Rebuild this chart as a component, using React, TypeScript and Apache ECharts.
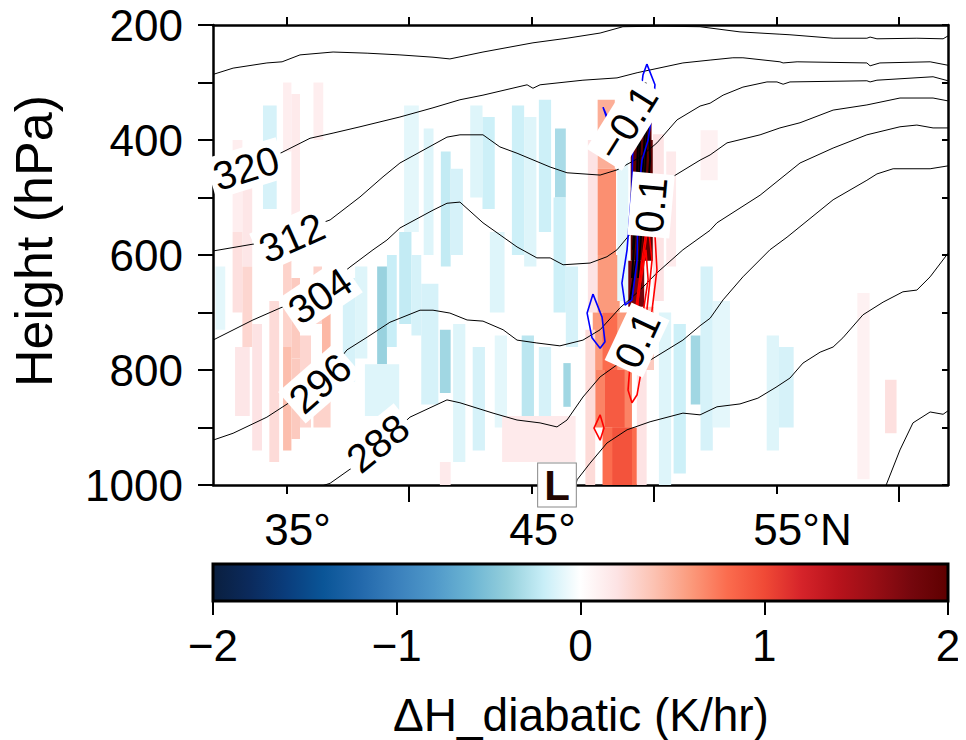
import React, { useEffect, useRef } from 'react';
import * as echarts from 'echarts';

const FONT = '"Liberation Sans", Arial, Helvetica, sans-serif';

// axis ticks / labels
const latTicksShort = [35, 45, 55];
const latTicksLong = [40, 50, 60];
const latTicksTop = [35, 40, 45, 50, 55, 60];
const latLabels = [35, 45, 55];

// colour table of the shading (evenly spaced from -2 to 2)
const cbarColors = [
  '#0a1f3f', '#0b2a5c', '#0a3d7c', '#0a5597', '#2268ab', '#3a80bc', '#4f98c9',
  '#6bb4d3', '#94cfdc', '#c8eef7', '#ffffff', '#fde3e4', '#fcc2b2', '#fb9a7c',
  '#fb6c4e', '#f04a36', '#d6242a', '#b8131c', '#980e15', '#75070d', '#5e0000',
];

// diabatic heating difference cells: [lat0, lat1, pTop, pBottom, K/hr]
const heatCells = [
  // warm streaks on the left
  [32.8, 33.2, 400, 560, 0.12], [33.2, 33.6, 430, 620, 0.18], [32.8, 33.2, 560, 700, 0.22],
  [33.2, 33.6, 620, 760, 0.28], [32.9, 33.5, 760, 880, 0.18], [33.6, 34.0, 720, 940, 0.2],
  [34.3, 34.7, 680, 960, 0.25], [34.86, 35.2, 300, 420, 0.12], [35.2, 35.55, 320, 600, 0.15],
  [34.86, 35.2, 600, 760, 0.3], [35.2, 35.55, 640, 780, 0.35], [34.86, 35.2, 760, 940, 0.42],
  [35.2, 35.55, 780, 920, 0.35], [35.55, 36.0, 740, 900, 0.28], [36.1, 36.5, 300, 400, 0.12],
  [36.1, 36.45, 620, 720, 0.3], [36.45, 36.8, 660, 790, 0.45], [36.1, 36.8, 790, 900, 0.3],
  // cool streaks
  [34.04, 34.6, 340, 520, -0.15], [32.1, 32.5, 620, 730, -0.1], [37.3, 37.8, 640, 820, -0.15],
  [37.8, 38.3, 620, 780, -0.12], [38.7, 39.1, 620, 790, -0.38], [39.1, 39.5, 600, 760, -0.2],
  [38.2, 39.6, 790, 880, -0.12], [39.6, 40.1, 560, 720, -0.22], [40.1, 40.5, 600, 740, -0.15],
  [39.8, 40.4, 340, 560, -0.1], [40.6, 41.0, 380, 600, -0.12], [41.3, 41.7, 420, 620, -0.22],
  [41.7, 42.2, 450, 600, -0.15], [42.5, 43.0, 340, 500, -0.12], [43.0, 43.5, 360, 520, -0.18],
  [43.3, 43.9, 560, 700, -0.12], [40.5, 41.2, 650, 860, -0.15], [41.26, 41.7, 730, 840, -0.35],
  [41.8, 42.3, 720, 960, -0.12], [42.6, 43.1, 760, 940, -0.15], [43.5, 44.0, 740, 900, -0.1],
  [44.2, 44.7, 340, 600, -0.18], [44.7, 45.2, 360, 620, -0.12], [45.3, 45.8, 330, 560, -0.18],
  [45.96, 46.4, 380, 500, -0.32], [45.9, 46.4, 500, 700, -0.18], [44.6, 45.1, 740, 880, -0.25],
  [45.3, 45.8, 760, 900, -0.15], [46.3, 46.6, 788, 864, -0.35], [46.4, 46.9, 620, 760, -0.15],
  [41.26, 41.7, 960, 1000, 0.15], [43.8, 46.8, 880, 960, 0.15],
  // frontal heating band
  [47.3, 47.7, 400, 700, 0.2], [47.7, 48.4, 330, 450, 0.5], [47.7, 48.45, 450, 600, 0.65],
  [47.7, 48.6, 600, 700, 0.6], [47.5, 48.9, 700, 800, 0.6], [47.9, 48.5, 700, 800, 0.8],
  [47.6, 49.1, 800, 900, 0.7], [48.0, 48.8, 800, 900, 0.9], [47.9, 49.3, 900, 1000, 0.8],
  [48.3, 49.1, 900, 1000, 0.95], [47.2, 47.6, 730, 1000, 0.25], [49.3, 49.7, 800, 1000, 0.2],
  [48.5, 48.95, 400, 680, -0.1],
  [49.3, 49.9, 320, 400, 1.8], [49.05, 49.95, 400, 610, 2.0], [48.95, 49.6, 610, 690, 1.8],
  [49.96, 50.4, 390, 680, 0.2], [50.5, 50.9, 420, 620, 0.15], [49.6, 50.0, 690, 800, 0.35],
  // north side
  [50.2, 50.7, 700, 1000, -0.12], [50.8, 51.3, 720, 980, -0.18], [51.5, 51.9, 740, 860, -0.35],
  [51.9, 52.4, 620, 940, -0.15], [52.4, 53.1, 680, 900, -0.1], [54.6, 55.1, 740, 940, -0.12],
  [55.1, 55.7, 760, 900, -0.15], [58.3, 58.8, 666, 990, 0.1], [59.43, 59.9, 817, 910, 0.22],
  [51.9, 52.6, 383, 470, 0.1],
];

// potential temperature contours [lat, hPa]
const theta328 = [[32.0, 286], [32.82, 275], [34.2, 266], [34.82, 264], [35.55, 252], [36.9, 247], [38.29, 249], [39.63, 252], [40.98, 256], [41.67, 259], [43.02, 247], [45.06, 231], [46.45, 223], [47.8, 214], [48.73, 203], [50.24, 202], [51.88, 203], [53.51, 212], [55.14, 216], [55.55, 217], [57.31, 223], [58.69, 223], [58.82, 221], [59.1, 224], [60.73, 223], [61.8, 224], [62.0, 219]];
const theta320 = [[32.0, 473], [33.31, 449], [34.61, 426], [35.96, 397], [36.9, 388], [38.0, 377], [39.63, 360], [40.98, 344], [42.08, 330], [43.02, 322], [44.82, 304], [45.06, 310], [45.35, 304], [47.1, 296], [48.49, 292], [49.31, 283], [51.18, 266], [52.29, 261], [53.22, 257], [53.63, 257], [55.14, 264], [55.27, 266], [55.84, 264], [58.69, 266], [58.82, 271], [59.22, 266], [61.27, 264], [62.0, 270]];
const theta312 = [[32.0, 593], [33.92, 579], [35.22, 563], [36.78, 539], [38.0, 499], [38.94, 464], [39.63, 440], [41.55, 395], [42.08, 391], [43.02, 391], [43.71, 412], [44.41, 423], [45.76, 447], [46.45, 457], [47.8, 461], [48.49, 452], [49.43, 430], [50.12, 405], [50.94, 365], [51.88, 341], [52.29, 336], [52.82, 322], [53.63, 308], [54.61, 299], [55.02, 299], [55.27, 303], [55.55, 299], [58.69, 297], [58.82, 299], [59.1, 296], [61.39, 290], [62.0, 297]];
const theta304 = [[32.0, 748], [33.63, 713], [34.86, 690], [36.37, 664], [37.59, 621], [38.53, 591], [39.1, 574], [39.63, 553], [40.98, 522], [41.55, 510], [42.08, 508], [43.02, 544], [44.41, 586], [45.22, 605], [45.76, 605], [46.29, 617], [47.39, 614], [48.08, 603], [48.49, 591], [49.43, 543], [50.53, 470], [51.88, 435], [52.29, 426], [52.98, 405], [54.33, 391], [55.14, 379], [55.96, 370], [57.31, 348], [58.69, 339], [60.04, 327], [61.39, 327], [62.0, 332]];
const theta296 = [[32.0, 922], [32.82, 910], [34.2, 882], [35.14, 856], [36.37, 823], [37.47, 765], [38.29, 743], [39.22, 717], [39.63, 710], [40.45, 696], [40.98, 696], [41.67, 701], [42.37, 713], [43.02, 715], [43.84, 730], [44.41, 748], [45.22, 753], [46.16, 758], [47.1, 748], [47.8, 730], [48.61, 692], [49.43, 661], [50.12, 631], [51.18, 591], [52.29, 557], [52.57, 544], [54.33, 496], [55.96, 440], [57.31, 414], [58.69, 391], [60.04, 377], [60.73, 374], [61.39, 379], [62.0, 379]];
const theta288 = [[36.2, 1005], [36.78, 997], [37.71, 969], [38.82, 930], [40.04, 882], [41.55, 852], [42.08, 857], [43.43, 875], [44.41, 887], [45.35, 892], [46.04, 899], [46.45, 887], [47.1, 847], [47.8, 812], [48.49, 791], [49.84, 783], [51.18, 748], [51.88, 723], [52.29, 710], [52.82, 678], [53.63, 638], [54.73, 591], [55.43, 569], [57.31, 504], [58.69, 470], [59.1, 459], [59.76, 450], [61.27, 450], [62.0, 445]];
const theta280 = [[46.78, 1005], [46.86, 991], [47.39, 962], [48.08, 927], [48.9, 904], [49.84, 890], [51.18, 875], [51.88, 878], [52.57, 864], [53.51, 859], [54.24, 849], [54.98, 830], [55.55, 814], [56.08, 788], [56.78, 769], [57.31, 760], [57.71, 744], [58.53, 704], [59.35, 682], [60.16, 664], [60.73, 661], [61.27, 638], [62.0, 597]];
const theta272 = [[59.43, 1005], [60.04, 939], [60.57, 892], [61.27, 873], [61.8, 877], [62.0, 871]];

// -0.1 contours (blue)
const negMain = [[49.71, 268], [50.04, 304], [49.96, 343], [49.76, 400], [49.51, 435], [49.35, 504], [49.31, 609], [49.1, 678], [48.82, 687], [48.69, 649], [48.9, 591], [49.1, 482], [49.14, 405], [49.43, 330], [49.55, 287], [49.71, 268]];
const negSmall = [[47.51, 668], [47.27, 701], [47.47, 744], [47.8, 762], [48.0, 751], [47.88, 708], [47.51, 668]];
const negUpper = [[47.92, 343], [48.16, 372], [48.04, 417], [48.3, 380], [47.92, 343]];
// +0.1 contours (red)
const posOuter = [[49.8, 518], [50.04, 565], [50.12, 626], [49.92, 696], [49.63, 765], [49.31, 843], [49.1, 857], [48.94, 835], [49.1, 748], [49.35, 661], [49.59, 583], [49.8, 518]];
const posMid = [[49.76, 548], [49.92, 609], [49.71, 696], [49.43, 765], [49.18, 800], [49.14, 765], [49.35, 678], [49.59, 600], [49.76, 548]];
const posInner = [[49.67, 591], [49.76, 643], [49.51, 713], [49.31, 739], [49.35, 678], [49.67, 591]];
const posSmall = [[47.8, 878], [47.96, 901], [47.8, 922], [47.55, 901], [47.8, 878]];
// dense black contours in the core
const core1 = [[49.55, 322], [49.63, 383], [49.47, 504], [49.27, 609], [49.02, 678]];
const core2 = [[49.76, 330], [49.84, 435], [49.63, 557], [49.43, 661]];
const core3 = [[49.35, 400], [49.27, 504], [49.14, 591]];
const core4 = [[49.65, 300], [49.7, 400], [49.55, 520], [49.35, 640]];
const core5 = [[49.45, 360], [49.4, 460], [49.22, 560], [49.1, 640]];

// contour labels: [lat, hPa, text, angle]
const isoLabels = [
  [33.35, 449, '320', 17], [35.22, 570, '312', 24], [36.37, 671, '304', 34],
  [36.37, 823, '296', 41], [38.73, 927, '288', 39],
  [48.9, 370, '\u22120.1', 58], [49.88, 513, '0.1', 85], [49.31, 748, '0.1', 65],
];
const lowCenter = [[46.04, 1000, 'L']];

const black = '#000';

export default function App() {
  const ref = useRef<HTMLDivElement>(null);
  useEffect(() => {
    const chart = echarts.init(ref.current!, undefined, { renderer: 'svg' });
    const line = (data: number[][], color: string, width: number, z = 3) => ({
      type: 'line', data, xAxisIndex: 0, yAxisIndex: 0, showSymbol: false, symbol: 'none',
      lineStyle: { color, width }, z, silent: true, clip: true,
    });
    const option: any = {
      animation: false,
      textStyle: { fontFamily: FONT },
      grid: [
        { left: 213, top: 25, width: 735, height: 460 },
        { left: 213, top: 564, width: 735, height: 37 },
      ],
      visualMap: {
        show: false, type: 'continuous', min: -2, max: 2, dimension: 4, seriesIndex: 0,
        inRange: { color: cbarColors },
      },
      xAxis: [
        {
          gridIndex: 0, type: 'value', position: 'bottom', min: 32, max: 62,
          axisLine: { lineStyle: { color: black, width: 2.5 } },
          axisTick: { customValues: latTicksShort, length: 9, lineStyle: { color: black, width: 2 } },
          axisLabel: {
            customValues: latLabels, margin: 22, color: black, fontSize: 44, fontFamily: FONT,
            formatter: (v: number) => (v === 55 ? '{b|55°N}' : '{a|' + v + '°}'),
            rich: {
              a: { fontSize: 44, fontFamily: FONT, color: black, padding: [0, 0, 0, 22] },
              b: { fontSize: 44, fontFamily: FONT, color: black, padding: [0, 0, 0, 52] },
            },
          },
          splitLine: { show: false },
        },
        {
          gridIndex: 0, type: 'value', position: 'bottom', min: 32, max: 62,
          axisLine: { show: false },
          axisTick: { customValues: latTicksLong, length: 17, lineStyle: { color: black, width: 2 } },
          axisLabel: { show: false }, splitLine: { show: false },
        },
        {
          gridIndex: 0, type: 'value', position: 'top', min: 32, max: 62,
          axisLine: { lineStyle: { color: black, width: 2.5 } },
          axisTick: { customValues: latTicksTop, length: 8, lineStyle: { color: black, width: 2 } },
          axisLabel: { show: false }, splitLine: { show: false },
        },
        {
          gridIndex: 1, type: 'value', position: 'bottom', min: -2, max: 2, interval: 1,
          axisLine: { show: false },
          axisTick: { length: 14, lineStyle: { color: black, width: 2 } },
          axisLabel: {
            margin: 22, color: black, fontSize: 44, fontFamily: FONT,
            formatter: (v: number) => (v < 0 ? '\u2212' + Math.abs(v) : String(v)),
          },
          splitLine: { show: false },
        },
      ],
      yAxis: [
        {
          gridIndex: 0, type: 'value', position: 'left', inverse: true, min: 200, max: 1000, interval: 100,
          axisLine: { lineStyle: { color: black, width: 2.5 } },
          axisTick: { length: 15, lineStyle: { color: black, width: 2 } },
          axisLabel: {
            margin: 30, color: black, fontSize: 44, fontFamily: FONT,
            formatter: (v: number) => (v % 200 === 0 ? String(v) : ''),
          },
          splitLine: { show: false },
        },
        {
          gridIndex: 0, type: 'value', position: 'right', inverse: true, min: 200, max: 1000, interval: 100,
          axisLine: { lineStyle: { color: black, width: 2.5 } },
          axisTick: { inside: true, length: 6, lineStyle: { color: black, width: 2 } },
          axisLabel: { show: false }, splitLine: { show: false },
        },
        { gridIndex: 1, type: 'value', min: 0, max: 1, show: false },
      ],
      series: [
        {
          type: 'custom', xAxisIndex: 0, yAxisIndex: 0, z: 1, silent: true,
          data: heatCells,
          encode: { x: [0, 1], y: [2, 3] },
          renderItem: (params: any, api: any) => {
            const a = api.coord([api.value(0), api.value(2)]);
            const b = api.coord([api.value(1), api.value(3)]);
            return {
              type: 'rect',
              shape: { x: Math.min(a[0], b[0]), y: Math.min(a[1], b[1]), width: Math.abs(b[0] - a[0]), height: Math.abs(b[1] - a[1]) },
              style: { fill: api.visual('color') },
            };
          },
        },
        line(theta328, black, 1), line(theta320, black, 1), line(theta312, black, 1),
        line(theta304, black, 1), line(theta296, black, 1), line(theta288, black, 1),
        line(theta280, black, 1), line(theta272, black, 1),
        line(core1, black, 2, 4), line(core2, black, 2, 4), line(core3, black, 2, 4),
        line(core4, black, 2, 4), line(core5, black, 2, 4),
        line(negMain, '#0000ff', 1.6, 5), line(negSmall, '#0000ff', 1.6, 5), line(negUpper, '#0000ff', 1.6, 5),
        line(posOuter, '#ff0000', 1.6, 5), line(posMid, '#ff0000', 1.6, 5), line(posInner, '#ff0000', 1.6, 5),
        line(posSmall, '#ff0000', 1.6, 5),
        {
          type: 'scatter', xAxisIndex: 0, yAxisIndex: 0, z: 8, silent: true, symbolSize: 0,
          itemStyle: { opacity: 1 },
          data: isoLabels.map((d) => ({
            value: [d[0], d[1]],
            label: {
              show: true, position: 'inside', formatter: String(d[2]), rotate: d[3], opacity: 1,
              fontSize: 40, fontFamily: FONT, color: black, backgroundColor: '#fff', padding: [1, 4],
            },
          })),
        },
        {
          type: 'scatter', xAxisIndex: 0, yAxisIndex: 0, z: 9, silent: true, symbolSize: 0, clip: false,
          itemStyle: { opacity: 1 },
          data: lowCenter.map((d) => ({
            value: [d[0], d[1]],
            label: {
              show: true, position: 'inside', formatter: String(d[2]), fontSize: 42, fontWeight: 'bold', opacity: 1,
              fontFamily: FONT, color: '#220600', backgroundColor: '#fff', borderColor: '#888', borderWidth: 1,
              padding: [1, 6, 0, 6],
            },
          })),
        },
        {
          type: 'custom', xAxisIndex: 3, yAxisIndex: 2, z: 2, silent: true,
          data: [[-2, 2, 0, 1]],
          encode: { x: [0, 1], y: [2, 3] },
          renderItem: (params: any, api: any) => {
            const a = api.coord([api.value(0), api.value(3)]);
            const b = api.coord([api.value(1), api.value(2)]);
            const stops = cbarColors.map((c, i) => ({ offset: i / (cbarColors.length - 1), color: c }));
            return {
              type: 'rect',
              shape: { x: a[0], y: a[1], width: b[0] - a[0], height: b[1] - a[1] },
              style: { fill: new echarts.graphic.LinearGradient(0, 0, 1, 0, stops), stroke: black, lineWidth: 3 },
            };
          },
        },
      ],
      graphic: [
        {
          type: 'text', x: 34, y: 241, rotation: Math.PI / 2,
          style: { text: 'Height (hPa)', fontSize: 52, fontFamily: FONT, fill: black, align: 'center', verticalAlign: 'middle' },
        },
        {
          type: 'text', x: 581, y: 715,
          style: { text: '\u0394H_diabatic (K/hr)', fontSize: 46, fontFamily: FONT, fill: black, align: 'center', verticalAlign: 'middle' },
        },
      ],
    };
    chart.setOption(option);
    return () => chart.dispose();
  }, []);
  return <div ref={ref} style={{ width: 966, height: 740, marginLeft: -8, marginTop: -8 }} />;
}
